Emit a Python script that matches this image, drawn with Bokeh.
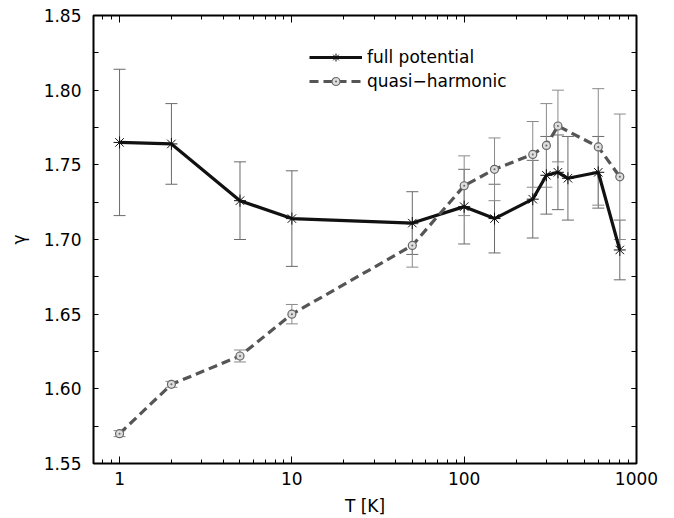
from bokeh.plotting import figure
from bokeh.models import (ColumnDataSource, Whisker, TeeHead, LogAxis, LinearAxis, Range1d,
                          SingleIntervalTicker, FixedTicker, Legend, LegendItem, NumeralTickFormatter)
from bokeh.embed import file_html
from bokeh.resources import INLINE

# ---- data ----
T_fp = [1, 2, 5, 10, 50, 100, 150, 250, 300, 350, 400, 600, 800]
g_fp = [1.765, 1.764, 1.726, 1.714, 1.711, 1.722, 1.714, 1.727, 1.743, 1.745, 1.741, 1.745, 1.693]
e_fp = [0.049, 0.027, 0.026, 0.032, 0.021, 0.025, 0.023, 0.026, 0.026, 0.025, 0.028, 0.024, 0.020]

T_qh = [1, 2, 5, 10, 50, 100, 150, 250, 300, 350, 600, 800]
g_qh = [1.570, 1.603, 1.622, 1.650, 1.696, 1.736, 1.747, 1.757, 1.763, 1.776, 1.762, 1.742]
e_qh = [0.002, 0.002, 0.004, 0.0065, 0.0145, 0.020, 0.021, 0.022, 0.028, 0.024, 0.039, 0.042]

x_major = [1, 10, 100, 1000]
x_minor = [0.8, 0.9, 2, 3, 4, 5, 6, 7, 8, 9, 20, 30, 40, 50, 60, 70, 80, 90,
           200, 300, 400, 500, 600, 700, 800, 900]

label_fp = "full potential"
label_qh = "quasi\u2212harmonic"

FONT = "DejaVu Sans"
FS = "17px"

src_fp = ColumnDataSource(dict(T=T_fp, g=g_fp,
                               lo=[a - b for a, b in zip(g_fp, e_fp)],
                               hi=[a + b for a, b in zip(g_fp, e_fp)]))
src_qh = ColumnDataSource(dict(T=T_qh, g=g_qh,
                               lo=[a - b for a, b in zip(g_qh, e_qh)],
                               hi=[a + b for a, b in zip(g_qh, e_qh)]))

p = figure(width=674, height=518, x_axis_type="log",
           x_range=Range1d(0.706, 1000), y_range=Range1d(1.55, 1.85),
           output_backend="svg", toolbar_location=None,
           min_border_left=93, min_border_right=38, min_border_top=15, min_border_bottom=53)

p.xgrid.visible = False
p.ygrid.visible = False
p.outline_line_color = "black"
p.outline_line_width = 2
p.outline_line_alpha = 1.0
p.background_fill_color = "white"
p.border_fill_color = "white"

xt = FixedTicker(ticks=x_major, minor_ticks=x_minor)
yt = SingleIntervalTicker(interval=0.05, num_minor_ticks=2)

# bottom axis
xa = p.xaxis[0]
xa.ticker = xt
xa.formatter = NumeralTickFormatter(format="0")
xa.axis_label = "T [K]"
# left axis
ya = p.yaxis[0]
ya.ticker = yt
ya.formatter = NumeralTickFormatter(format="0.00")
ya.axis_label = "\u03b3"

for ax in (xa, ya):
    ax.axis_line_color = None
    ax.major_label_text_font = FONT
    ax.major_label_text_font_size = FS
    ax.major_label_text_color = "black"
    ax.axis_label_text_font = FONT
    ax.axis_label_text_font_size = FS
    ax.axis_label_text_font_style = "normal"
    ax.axis_label_text_color = "black"
    ax.major_tick_out = 0
    ax.minor_tick_out = 0
    ax.major_tick_line_color = "black"
    ax.minor_tick_line_color = "black"

xa.major_tick_in = 7
xa.minor_tick_in = 4
xa.major_label_standoff = 8
xa.axis_label_standoff = 8
ya.major_tick_in = 0
ya.minor_tick_in = 5
ya.major_label_standoff = 12
ya.axis_label_standoff = 12

# top and right mirror axes (ticks only)
ta = LogAxis(ticker=xt, major_label_text_font_size="1px", major_label_text_color=None,
             axis_line_color=None,
             major_tick_in=7, major_tick_out=0, minor_tick_in=4, minor_tick_out=0,
             major_label_standoff=0)
ra = LinearAxis(ticker=yt, major_label_text_font_size="1px", major_label_text_color=None,
                axis_line_color=None,
                major_tick_in=5, major_tick_out=0, minor_tick_in=5, minor_tick_out=0,
                major_label_standoff=0)
p.add_layout(ta, "above")
p.add_layout(ra, "right")

# error bars
w_fp = Whisker(source=src_fp, base="T", lower="lo", upper="hi", dimension="height",
               line_color="#6a6a6a", line_width=1,
               upper_head=TeeHead(size=12, line_color="#6a6a6a", line_width=1),
               lower_head=TeeHead(size=12, line_color="#6a6a6a", line_width=1))
w_qh = Whisker(source=src_qh, base="T", lower="lo", upper="hi", dimension="height",
               line_color="#8a8a8a", line_width=1,
               upper_head=TeeHead(size=12, line_color="#8a8a8a", line_width=1),
               lower_head=TeeHead(size=12, line_color="#8a8a8a", line_width=1))
p.add_layout(w_fp)
p.add_layout(w_qh)

l_fp = p.line("T", "g", source=src_fp, line_color="#111111", line_width=3.2)
m_fp = p.scatter("T", "g", source=src_fp, marker="asterisk", size=12,
                 line_color="#111111", line_width=1)
l_qh = p.line("T", "g", source=src_qh, line_color="#555555", line_width=3.2,
              line_dash="9 5")
m_qh = p.scatter("T", "g", source=src_qh, marker="circle_dot", size=8,
                 line_color="#666666", fill_color="#dddddd", line_width=1.2)

legend = Legend(items=[LegendItem(label=label_fp, renderers=[l_fp, m_fp]),
                       LegendItem(label=label_qh, renderers=[l_qh, m_qh])],
                location=(216, 372), orientation="vertical",
                glyph_width=53, glyph_height=20, label_height=20, label_standoff=5,
                spacing=4, padding=0, margin=0,
                border_line_color=None, background_fill_alpha=0,
                label_text_font=FONT, label_text_font_size=FS, label_text_color="black")
p.add_layout(legend)

open("out.html", "w").write(file_html(p, INLINE))
